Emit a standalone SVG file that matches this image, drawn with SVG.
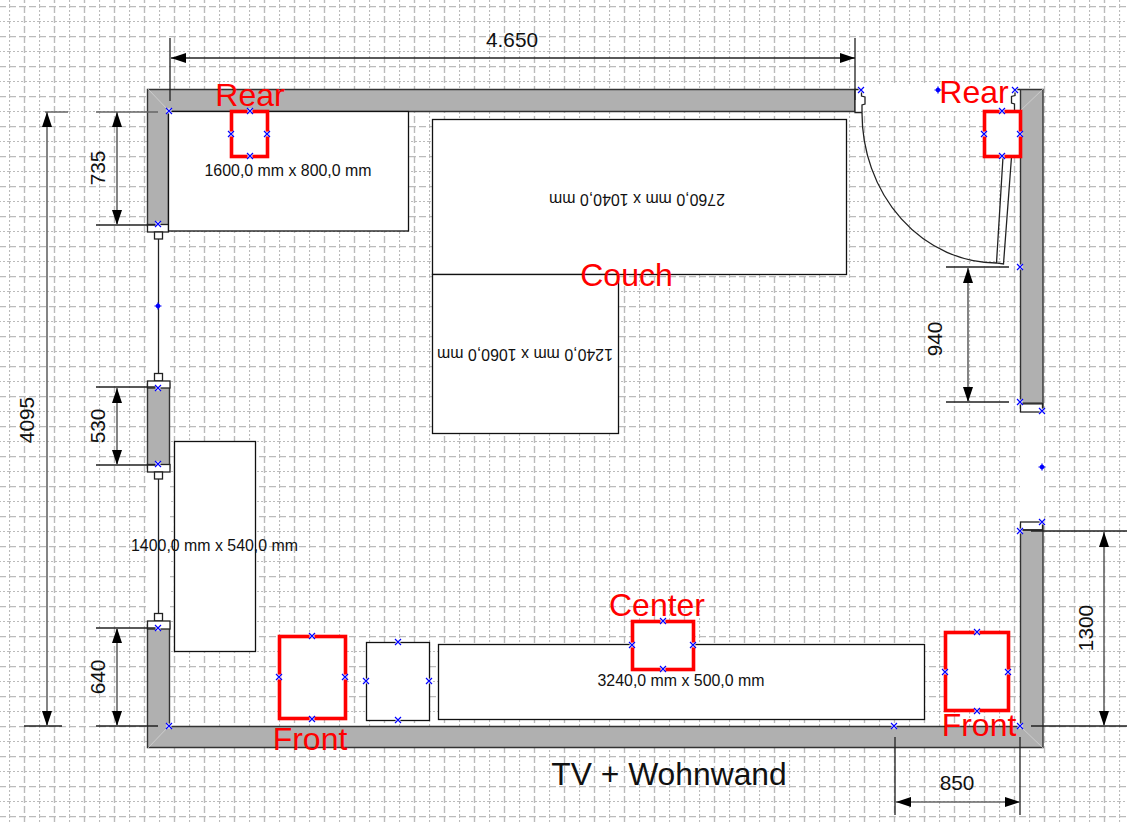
<svg xmlns="http://www.w3.org/2000/svg" width="1127" height="822" viewBox="0 0 1127 822">
<style>
text{font-family:"Liberation Sans",Arial,sans-serif;fill:#111}
.lbl{font-size:32px;fill:#f00}
.dim{font-size:20.8px}
.size{font-size:15.9px}
.box{fill:#fff;stroke:#111;stroke-width:1.3}
.spk{fill:#fff;stroke:#f00;stroke-width:3.6}
.wall{fill:#b0b0b0;stroke:#333;stroke-width:1.4}
.win{fill:#fff;stroke:#222;stroke-width:1.3}
.dl{fill:none;stroke:#222;stroke-width:1.3}
.dg{fill:none;stroke:#666;stroke-width:1.6}
.h{fill:none;stroke:#00f;stroke-width:1.2}
.hb{fill:none;stroke:#fff;stroke-width:2.6}
.maj{fill:none;stroke:#bbb;stroke-width:1.4;stroke-dasharray:7 3}
.min{fill:none;stroke:#bbb;stroke-width:1.2;stroke-dasharray:2 2}
</style>
<defs>
<pattern id="grid" width="30" height="30" patternUnits="userSpaceOnUse" x="9" y="6">
<path class="min" d="M0.500 0V30M0 15.500H30"/>
<path class="maj" d="M15.500 0V30M0 0.500H30"/>
</pattern>
<marker id="ah" markerWidth="15" markerHeight="10" refX="15" refY="5" orient="auto-start-reverse" markerUnits="userSpaceOnUse"><path d="M0 0L15 5L0 10Z" fill="#000"/></marker>
<g id="x"><path class="hb" d="M-2-2L2 2M-2 2L2-2"/><path class="h" d="M-3-3L3 3M-3 3L3-3"/></g>
<g id="star"><circle r="2.300" fill="#00f"/><path class="h" d="M-3.500 0H3.500M0-3.500V3.500"/></g>
</defs>
<rect width="1127" height="822" fill="#fff"/>
<rect width="1127" height="822" fill="url(#grid)"/>
<g id="walls">
<rect x="855" y="84" width="165" height="27" fill="#fff"/>
<rect x="147" y="232" width="23" height="150" fill="#fff"/>
<rect x="147" y="472" width="23" height="150" fill="#fff"/>
<rect x="1020" y="404" width="24" height="126" fill="#fff"/>
<path class="wall" d="M147.500 89.500H855V111.500H168.500V226H147.500Z"/>
<path class="wall" d="M1020.500 89.500H1043V408H1020.500Z"/>
<path class="wall" d="M147.500 625H169.500V726.500H1020.500V525H1043V747.500H147.500Z"/>
<rect class="wall" x="147.500" y="384" width="22" height="84"/>
<path d="M148 89L169 111M1043 89L1020 111M148 748L169 726M1043 748L1020 726" stroke="#d8d8d8" stroke-width="0.7"/>
</g>
<g id="window-1">
<rect class="win" x="147.500" y="224.500" width="21" height="7.500"/>
<rect class="win" x="154.500" y="232" width="8" height="7"/>
<path class="dl" d="M158.500 239V373"/>
<rect class="win" x="154.500" y="373.500" width="8" height="7.500"/>
<rect class="win" x="147.500" y="381" width="22.500" height="7"/>
</g>
<g id="window-2">
<rect class="win" x="147.500" y="464.500" width="22.500" height="7.500"/>
<rect class="win" x="154.500" y="472" width="8" height="7"/>
<path class="dl" d="M158.500 479V613"/>
<rect class="win" x="154.500" y="613.500" width="8" height="7.500"/>
<rect class="win" x="147.500" y="621" width="22.500" height="8"/>
</g>
<g id="door-right">
<rect class="win" x="1020.500" y="403.500" width="22" height="8.500"/>
<rect class="win" x="1020.500" y="522" width="22" height="8"/>
<path d="M1020 403.500H1042M1020 530H1042" stroke="#333" stroke-width="2"/>
</g>
<g id="door-top">
<path class="dl" d="M855 89.500H861.500V96L865 97V104L862 105V112.500H855Z" style="fill:#fff"/>
<path class="dl" d="M1020 89.500H1015V95.500L1011.500 96.500V103L1014.500 104V111"/>
<path class="dl" d="M862 113A135 150 0 0 0 996.500 263"/>
<path class="dl" d="M1003 157L996.500 263L1003.500 264L1011.500 157"/>
</g>
<g id="desk"><rect class="box" x="168.500" y="111.500" width="240" height="119.500"/><text class="size" x="288" y="176" text-anchor="middle">1600,0 mm x 800,0 mm</text></g>
<g id="couch-top"><rect class="box" x="432.500" y="119.500" width="414" height="155"/><text class="size" transform="rotate(180 637 199)" x="637" y="204.500" text-anchor="middle">2760,0 mm x 1040,0 mm</text></g>
<g id="couch-side"><rect class="box" x="432.500" y="274.500" width="186" height="159"/><text class="size" transform="rotate(180 525 354)" x="525" y="359.500" text-anchor="middle">1240,0 mm x 1060,0 mm</text></g>
<g id="shelf"><rect class="box" x="174.500" y="441.500" width="81" height="210"/><text class="size" x="214.500" y="551" text-anchor="middle">1400,0 mm x 540,0 mm</text></g>
<g id="side-table"><rect class="box" x="366.500" y="642.500" width="63" height="78"/></g>
<g id="tv-unit"><rect class="box" x="438.500" y="644.500" width="486" height="75"/><text class="size" x="681" y="686" text-anchor="middle">3240,0 mm x 500,0 mm</text></g>
<g id="speaker-rear-left"><rect class="spk" x="231.500" y="111.500" width="36" height="45"/><text class="lbl" x="250" y="106" text-anchor="middle">Rear</text></g>
<g id="speaker-rear-right"><rect class="spk" x="984.500" y="111.500" width="36" height="45"/><text class="lbl" x="974" y="103" text-anchor="middle">Rear</text></g>
<g id="speaker-front-left"><rect class="spk" x="279.500" y="636.500" width="66" height="82"/><text class="lbl" x="310" y="750" text-anchor="middle">Front</text></g>
<g id="speaker-front-right"><rect class="spk" x="945.500" y="632.500" width="63" height="78"/><text class="lbl" x="979" y="736" text-anchor="middle">Front</text></g>
<g id="speaker-center"><rect class="spk" x="632.500" y="621.500" width="61" height="48"/><text class="lbl" x="657" y="616" text-anchor="middle">Center</text></g>
<g id="label-couch"><text class="lbl" x="626.500" y="286" text-anchor="middle">Couch</text></g>
<g id="title"><text x="669" y="785" text-anchor="middle" font-size="31.800">TV + Wohnwand</text></g>
<g id="connectors">
<path class="dl" d="M170 38V101M855 38V100"/>
<path class="dl" d="M171 58H855" marker-start="url(#ah)" marker-end="url(#ah)"/>
<path class="dg" d="M45 112H68M96 112H158"/>
<path class="dl" d="M24 726H62M96 726H158"/>
<path class="dg" d="M47 112V726" marker-start="url(#ah)" marker-end="url(#ah)"/>
<path class="dl" d="M96 225H158"/>
<path class="dg" d="M117 112V225" marker-start="url(#ah)" marker-end="url(#ah)"/>
<path class="dl" d="M96 387H158M96 465H158"/>
<path class="dg" d="M117 388V465" marker-start="url(#ah)" marker-end="url(#ah)"/>
<path class="dl" d="M96 628H158"/>
<path class="dg" d="M117 628V726" marker-start="url(#ah)" marker-end="url(#ah)"/>
<path class="dl" d="M946 267H1009M946 402H1009"/>
<path class="dg" d="M968 268V402" marker-start="url(#ah)" marker-end="url(#ah)"/>
<path class="dl" d="M1031 531H1127M1031 726H1127"/>
<path class="dg" d="M1104 532V726" marker-start="url(#ah)" marker-end="url(#ah)"/>
<path class="dl" d="M895 737V815M1020 737V815"/>
<path class="dg" d="M896 802H1020" marker-start="url(#ah)" marker-end="url(#ah)"/>
</g>
<g id="dim-labels">
<text class="dim" x="512" y="47" text-anchor="middle">4.650</text>
<text class="dim" transform="rotate(-90 27 420)" x="27" y="427" text-anchor="middle">4095</text>
<text class="dim" transform="rotate(-90 98 168)" x="98" y="175" text-anchor="middle">735</text>
<text class="dim" transform="rotate(-90 98 426)" x="98" y="433" text-anchor="middle">530</text>
<text class="dim" transform="rotate(-90 98 677)" x="98" y="684" text-anchor="middle">640</text>
<text class="dim" transform="rotate(-90 935 339)" x="935" y="346" text-anchor="middle">940</text>
<text class="dim" transform="rotate(-90 1086 628)" x="1086" y="635" text-anchor="middle">1300</text>
<text class="dim" x="957" y="790" text-anchor="middle">850</text>
</g>
<g id="handles">
<use href="#star" x="158" y="306"/><use href="#star" x="938" y="90"/><use href="#star" x="1042" y="467"/>
<use href="#x" x="169" y="111"/><use href="#x" x="158" y="224"/><use href="#x" x="158" y="388"/><use href="#x" x="158" y="464"/><use href="#x" x="158" y="628"/><use href="#x" x="169" y="726"/>
<use href="#x" x="861" y="90"/><use href="#x" x="1015" y="90"/><use href="#x" x="1020" y="267"/><use href="#x" x="1020" y="402"/><use href="#x" x="1042" y="411"/><use href="#x" x="1042" y="522"/><use href="#x" x="1020" y="531"/><use href="#x" x="1020" y="726"/><use href="#x" x="894" y="726"/>
<use href="#x" x="250" y="111"/><use href="#x" x="231" y="134"/><use href="#x" x="267" y="134"/><use href="#x" x="250" y="156"/>
<use href="#x" x="1002" y="111"/><use href="#x" x="984" y="134"/><use href="#x" x="1020" y="134"/><use href="#x" x="1002" y="156"/>
<use href="#x" x="312" y="636"/><use href="#x" x="279" y="677"/><use href="#x" x="345" y="677"/><use href="#x" x="312" y="719"/>
<use href="#x" x="398" y="642"/><use href="#x" x="366" y="681"/><use href="#x" x="429" y="681"/><use href="#x" x="398" y="720"/>
<use href="#x" x="977" y="632"/><use href="#x" x="945" y="672"/><use href="#x" x="1008" y="672"/><use href="#x" x="977" y="711"/>
<use href="#x" x="663" y="621"/><use href="#x" x="632" y="645"/><use href="#x" x="693" y="645"/><use href="#x" x="663" y="669"/>
</g>
</svg>
